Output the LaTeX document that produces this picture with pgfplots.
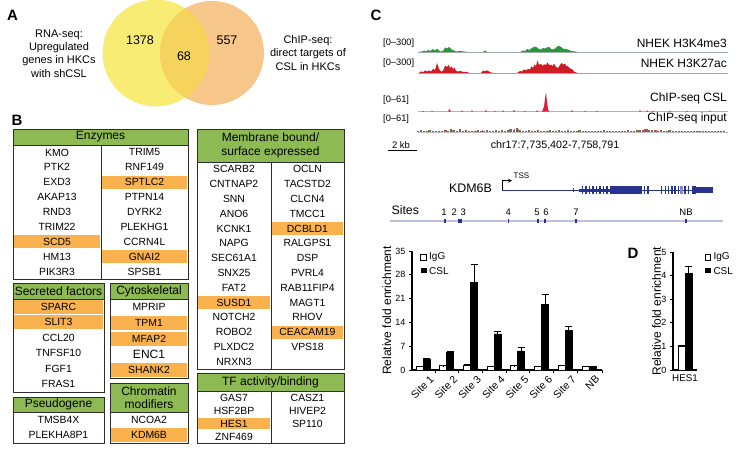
\documentclass[border=0pt]{standalone}
\usepackage{pgfplots}
\pgfplotsset{compat=1.18}
\usepackage{fontspec}
\setmainfont{Liberation Sans}
\definecolor{vyel}{RGB}{249,236,116}
\definecolor{vora}{RGB}{247,198,138}
\definecolor{vmid}{RGB}{245,211,92}
\definecolor{hdr}{RGB}{141,186,82}
\definecolor{hl}{RGB}{250,178,78}
\definecolor{bline}{RGB}{45,45,45}
\definecolor{trgreen}{RGB}{40,150,60}
\definecolor{trred}{RGB}{205,28,38}
\definecolor{cslred}{RGB}{222,30,55}
\definecolor{inbrown}{RGB}{140,95,85}
\definecolor{inolive}{RGB}{105,135,65}
\definecolor{navy}{RGB}{40,50,145}
\definecolor{lightnavy}{RGB}{130,135,200}
\definecolor{siteline}{RGB}{190,192,222}
\definecolor{basegray}{RGB}{175,175,175}
\newcommand{\fs}[1]{\fontsize{#1}{#1}\selectfont}
% column of gene names: x1, x2, header bottom, row height, list name/flag
\newcommand{\gcol}[5]{%
  \foreach \g/\h [count=\i] in {#5} {%
    \ifnum\h=1 \fill[hl] ({#1+1.2},{#3+(\i-1)*#4+0.9}) rectangle ({#2-1.2},{#3+\i*#4-0.9});\fi
    \node[font=\fs{10.4}, inner sep=0pt] at ({(#1+#2)/2},{#3+(\i-0.5)*#4}) {\g};
  }}
% box: x1, x2, top, header bottom, bottom, header text
\newcommand{\gboxhead}[5]{%
  \fill[hdr] (#1,#3) rectangle (#2,#4);
  \node[font=\fontsize{12}{13.5}\selectfont, align=center, inner sep=0pt] at ({(#1+#2)/2},{(#3+#4)/2}) {#5};}
\newcommand{\gboxframe}[5]{%
  \draw[bline, line width=0.9pt] (#1,#4) -- (#2,#4);
  \draw[bline, line width=0.9pt] (#1,#3) rectangle (#2,#5);}
\pgfplotsset{trk/.style={scale only axis, width=310pt, height=20pt, xmin=0, xmax=310, ymin=0, hide axis, clip=false, anchor=south west}}
\begin{document}
\begin{tikzpicture}
\useasboundingbox (0,0) rectangle (742pt,-458pt);
\begin{scope}[x=1pt,y=-1pt]
% ---------------- Panel A ----------------
\node[font=\bfseries\fs{15}] at (12.5,15) {A};
\fill[vyel] (156,53) circle[radius=53.5pt];
\fill[vora] (212,53) circle[radius=52pt];
\begin{scope}
  \clip (156,53) circle[radius=53.5pt];
  \fill[vmid] (212,53) circle[radius=52pt];
\end{scope}
\node[font=\fs{12.5}] at (140,40) {1378};
\node[font=\fs{12.5}] at (184,56.5) {68};
\node[font=\fs{12.5}] at (227,40) {557};
\node[font=\fontsize{11}{13.3}\selectfont, align=center] at (59,53.5) {RNA-seq:\\Upregulated\\genes in HKCs\\with shCSL};
\node[font=\fontsize{11}{13.5}\selectfont, align=center] at (308,53) {ChIP-seq:\\direct targets of\\CSL in HKCs};
% ---------------- Panel B ----------------
\node[font=\bfseries\fs{15}] at (17,120) {B};
% Enzymes
\gboxhead{13}{188}{129}{145}{Enzymes}
\gcol{13}{101}{145}{14.9}{KMO/0,PTK2/0,EXD3/0,AKAP13/0,RND3/0,TRIM22/0,SCD5/1,HM13/0,PIK3R3/0}
\gcol{101}{188}{145}{14.9}{TRIM5/0,RNF149/0,SPTLC2/1,PTPN14/0,DYRK2/0,PLEKHG1/0,CCRN4L/0,GNAI2/1,SPSB1/0}
\gboxframe{13}{188}{129}{145}{279}
\draw[bline, line width=0.9pt] (101,145) -- (101,279);
% Secreted factors
\gboxhead{13}{104}{283}{299}{Secreted factors}
\gcol{13}{104}{299}{15.5}{SPARC/1,SLIT3/1,CCL20/0,TNFSF10/0,FGF1/0,FRAS1/0}
\gboxframe{13}{104}{283}{299}{392}
% Pseudogene
\gboxhead{13}{104}{397}{412}{Pseudogene}
\gcol{13}{104}{412}{15.5}{TMSB4X/0,PLEKHA8P1/0}
\gboxframe{13}{104}{397}{412}{443}
% Cytoskeletal
\gboxhead{110}{188}{283}{299}{Cytoskeletal}
\gcol{110}{188}{299}{15.8}{MPRIP/0,TPM1/1,MFAP2/1,{\fs{12}ENC1}/0,SHANK2/1}
\gboxframe{110}{188}{283}{299}{378}
% Chromatin modifiers
\gboxhead{110}{188}{383}{412}{Chromatin\\modifiers}
\gcol{110}{188}{412}{15.5}{NCOA2/0,KDM6B/1}
\gboxframe{110}{188}{383}{412}{443}
% Membrane bound
\gboxhead{197}{344}{129}{162}{Membrane bound/\\surface expressed}
\gcol{197}{271}{162}{14.8}{SCARB2/0,CNTNAP2/0,SNN/0,ANO6/0,KCNK1/0,NAPG/0,SEC61A1/0,SNX25/0,FAT2/0,SUSD1/1,NOTCH2/0,ROBO2/0,PLXDC2/0,NRXN3/0}
\gcol{271}{344}{162}{14.8}{OCLN/0,TACSTD2/0,CLCN4/0,TMCC1/0,DCBLD1/1,RALGPS1/0,DSP/0,PVRL4/0,RAB11FIP4/0,MAGT1/0,RHOV/0,CEACAM19/1,VPS18/0}
\gboxframe{197}{344}{129}{162}{369}
\draw[bline, line width=0.9pt] (271,162) -- (271,369);
% TF activity
\gboxhead{197}{344}{373}{391}{TF activity/binding}
\gcol{197}{271}{391}{13}{GAS7/0,HSF2BP/0,HES1/1,ZNF469/0}
\gcol{271}{344}{391}{13}{CASZ1/0,HIVEP2/0,SP110/0}
\gboxframe{197}{344}{373}{391}{443}
\draw[bline, line width=0.9pt] (271,391) -- (271,443);
% ---------------- Panel C ----------------
\node[font=\bfseries\fs{15}] at (376,15) {C};
\draw[basegray, line width=0.8pt] (418,52) -- (728,52);
\draw[basegray, line width=0.8pt] (418,73) -- (728,73);
\draw[basegray!80, line width=0.6pt] (418,111.5) -- (728,111.5);
\draw[basegray!80, line width=0.6pt] (418,132) -- (728,132);
\node[font=\fs{9.3}, anchor=west, inner sep=0pt] at (383,43) {[0--300]};
\node[font=\fs{9.3}, anchor=west, inner sep=0pt] at (383,63) {[0--300]};
\node[font=\fs{9.3}, anchor=west, inner sep=0pt] at (383,100) {[0--61]};
\node[font=\fs{9.3}, anchor=west, inner sep=0pt] at (383,119) {[0--61]};
\node[font=\fs{12}, anchor=east, inner sep=0pt] at (727,43) {NHEK H3K4me3};
\node[font=\fs{12}, anchor=east, inner sep=0pt] at (727,63) {NHEK H3K27ac};
\node[font=\fs{12}, anchor=east, inner sep=0pt] at (727,98) {ChIP-seq CSL};
\node[font=\fs{12}, anchor=east, inner sep=0pt] at (727,118) {ChIP-seq input};
\draw[black, line width=0.8pt] (388,150.7) -- (417,150.7);
\node[font=\fs{9.5}, inner sep=0pt] at (401,145) {2 kb};
\node[font=\fs{10.7}, inner sep=0pt] at (555,145.5) {chr17:7,735,402-7,758,791};
% gene model
\node[font=\fs{12.4}, anchor=east, inner sep=0pt] at (492,188) {KDM6B};
\draw[navy, line width=1pt] (502.3,190) -- (713,190);
\draw[black, line width=0.8pt, -stealth] (502.3,190) -- (502.3,180.7) -- (512,180.7);
\node[font=\fs{8}, anchor=west, inner sep=0pt] at (513.5,175.5) {TSS};
\fill[navy] (572.5,188.3) rectangle (574.3,191.7);
\fill[navy] (579,188.5) rectangle (610,191.5);
\foreach \xx in {581.7,585.2,588.6,592.1,595.6,599.1,602.6,606} {\fill[navy] (\xx,185.7) rectangle (\xx+1.6,194.3);}
\fill[navy] (610,185.7) rectangle (641.5,194.3);
\fill[navy] (643.5,185.7) rectangle (645,194.3);
\fill[navy] (647,185.7) rectangle (648.5,194.3);
\foreach \xx in {660.5,664.8,667.8,671,674.2,677.5,684.3,687.7} {\fill[navy] (\xx,185.7) rectangle (\xx+1.6,194.3);}
\fill[lightnavy] (680,185.7) rectangle (683,194.3);
\fill[navy] (691.5,185.7) rectangle (696,194.3);
\fill[navy] (696,187.4) rectangle (713.3,192.6);
% sites
\node[font=\fs{12.3}, inner sep=0pt] at (405.3,210) {Sites};
\draw[siteline, line width=1.4pt] (390,221) -- (723,221);
\foreach \xx in {445,508.5,537.7,544.7,575.8,685.8} {\fill[navy] (\xx-0.9,219.3) rectangle (\xx+0.9,222.7);}
\fill[navy] (457.6,219.3) rectangle (462.3,222.7);
\foreach \xx/\tt in {444/1,454.3/2,463.3/3,508.3/4,537/5,546/6,576/7,686/NB} {\node[font=\fs{9.5}, inner sep=0pt] at (\xx,212) {\tt};}
% legends
\draw[black, line width=0.8pt, fill=white] (420.7,254.3) rectangle (426.5,260.1);
\node[font=\fs{10}, anchor=west, inner sep=0pt] at (429,257.3) {IgG};
\fill[black] (420.7,267.6) rectangle (426.5,273.4);
\node[font=\fs{10}, anchor=west, inner sep=0pt] at (429,270.8) {CSL};
\node[font=\bfseries\fs{15}] at (633,253) {D};
\draw[black, line width=0.8pt, fill=white] (705,254.3) rectangle (710.8,260.1);
\node[font=\fs{10}, anchor=west, inner sep=0pt] at (713.3,257.3) {IgG};
\fill[black] (705,267.6) rectangle (710.8,273.4);
\node[font=\fs{10}, anchor=west, inner sep=0pt] at (713.3,270.8) {CSL};
\end{scope}
% ---------------- tracks ----------------
\begin{axis}[trk, ymax=300, at={(418pt,-52pt)}]
\addplot[fill=trgreen, draw=none] coordinates {(0,0)(4,8)(6,22)(8,8)(10,30)(12,15)(15,45)(17,22)(19,52)(22,8)(25,15)(27,68)(29,52)(31,75)(33,45)(36,22)(38,8)(42,15)(45,8)(50,0)(65,0)(67,22)(69,0)(94,0)(102,0)(105,22)(107,15)(109,45)(111,30)(113,52)(115,68)(117,82)(119,68)(121,45)(123,38)(125,60)(127,52)(129,68)(131,75)(133,45)(135,38)(137,52)(139,82)(141,90)(143,75)(145,52)(147,45)(150,38)(153,15)(157,8)(160,0)(310,0)};
\end{axis}
\begin{axis}[trk, ymax=300, at={(418pt,-73pt)}]
\addplot[fill=trred, draw=none] coordinates {(1,0)(3,25)(5,12)(7,40)(9,22)(11,38)(13,22)(15,60)(17,45)(19,150)(21,60)(23,22)(25,30)(27,110)(29,90)(30.5,125)(32,75)(33.5,100)(35,60)(36.5,80)(38,30)(40,22)(42,30)(44,22)(46,15)(49,18)(51,0)(63,0)(65,35)(67,27)(69,40)(71,22)(73,8)(75,0)(99,0)(102,30)(104,22)(105.5,50)(108,45)(110.5,60)(112,52)(113.5,100)(115,75)(116.5,125)(118,105)(119.5,190)(121,120)(123,140)(124.5,105)(126,130)(128,120)(129.5,160)(131,120)(133,125)(134.5,105)(136,140)(138,90)(140,75)(142,120)(143.5,150)(145,128)(147,135)(148.5,105)(150,100)(152,68)(154,60)(156,22)(158,8)(160,0)(310,0)};
\end{axis}
\begin{axis}[trk, ymax=61, at={(418pt,-111.5pt)}]
\addplot[fill=cslred, draw=none] coordinates {(0,0)(4,0)(5,3)(6,0)(13,0)(14,3)(15,0)(30,0)(31.5,8)(33,0)(43,0)(44,4)(45,0)(53,0)(54,4)(55,0)(67,0)(68,6)(69,0)(76,0)(77,3)(78,0)(84,0)(85,4)(86,0)(95,0)(96,6)(97,0)(106,0)(107,3)(108,0)(118,0)(119,4)(120,0)(124,0)(125,8)(126,14)(127,40)(128,58)(129,30)(130,8)(131,0)(153,0)(154,5)(155,0)(166,0)(167,3)(168,0)(178,0)(179,3)(180,0)(221,0)(222,5)(223,0)(228,0)(229,4)(230,0)(234,0)(235,3)(236,0)(251,0)(252,3)(253,0)(268,0)(269,3)(270,0)(291,0)(292,3)(293,0)(310,0)};
\end{axis}
\begin{axis}[trk, ymax=61, at={(418pt,-132pt)}]
\addplot[ycomb, draw=inbrown, line width=1.2pt, mark=none] coordinates {(0,3)(3,5)(6,2)(9,4)(12,6)(15,3)(18,2)(21,4)(24,3)(27,7)(30,4)(33,9)(36,5)(39,3)(42,8)(45,4)(48,6)(51,3)(54,4)(57,2)(60,5)(63,3)(66,4)(69,6)(72,3)(75,4)(78,5)(81,2)(84,6)(87,4)(90,7)(93,10)(96,6)(99,12)(102,7)(105,4)(108,3)(111,5)(114,3)(117,4)(120,6)(123,3)(126,4)(129,2)(132,5)(135,4)(138,3)(141,6)(144,4)(147,3)(150,5)(153,2)(156,4)(159,3)(162,5)(165,3)(168,4)(171,2)(174,3)(177,4)(180,2)(183,3)(186,5)(189,4)(192,3)(195,4)(198,3)(201,2)(204,4)(207,3)(210,5)(213,3)(216,4)(219,6)(222,5)(225,7)(228,9)(231,6)(234,5)(237,7)(240,4)(243,5)(246,3)(249,4)(252,6)(255,3)(258,4)(261,2)(264,3)(267,4)(270,3)(273,2)(276,4)(279,3)(282,3)(285,2)(288,3)(291,4)(294,3)(297,2)(300,3)(303,3)(306,2)};
\addplot[ycomb, draw=inolive, line width=1.2pt, mark=none] coordinates {(10.5,5)(34.5,7)(58.5,4)(91.5,8)(100.5,9)(130.5,4)(160.5,5)(220.5,6)(229.5,8)(250.5,5)(280.5,4)};
\addplot[ycomb, draw=cslred!80, line width=1.2pt, mark=none] coordinates {(28.5,6)(64.5,5)(96.5,10)(226.5,9)(238.5,6)};
\end{axis}
% ---------------- bar chart C ----------------
\begin{axis}[
  scale only axis, width=190pt, height=119pt,
  at={(412pt,-370pt)}, anchor=south west,
  ybar=0pt, bar width=7pt,
  xmin=0.53, xmax=8.55, ymin=0, ymax=35,
  axis lines=left, axis line style={-, line width=1.1pt},
  tick align=outside, major tick length=3pt, minor tick length=3pt,
  ytick={0,7,14,21,28,35},
  xtick={1.25,2.25,3.25,4.25,5.25,6.25,7.25,8.25},
  xticklabels={Site 1,Site 2,Site 3,Site 4,Site 5,Site 6,Site 7,NB},
  minor xtick={1.5,2.5,3.5,4.5,5.5,6.5,7.5,8.55},
  major x tick style=transparent,
  minor x tick style={black, line width=0.9pt},
  major y tick style={black, line width=0.9pt},
  x tick label style={rotate=45, anchor=north east, font=\fs{10.5}, inner sep=1pt},
  y tick label style={font=\fs{9}},
  /pgf/number format/assume math mode=true,
  every axis y label/.style={at={(axis description cs:-0.132,0.5)}, rotate=90, anchor=center, font=\fs{12}},
  ylabel={Relative fold enrichment},
]
\addplot[fill=white, draw=black, line width=0.9pt,
  error bars/.cd, y dir=plus, y explicit,
  error bar style={line width=0.9pt, black},
  error mark options={rotate=90, mark size=3.5pt, line width=0.9pt, black}]
  coordinates {(1,1.0) +- (0,0.1) (2,1.2) +- (0,0.1) (3,1.3) +- (0,0.3) (4,1.0) +- (0,0.1) (5,1.2) +- (0,0.1) (6,1.0) +- (0,0.05) (7,1.3) +- (0,0.1) (8,1.0) +- (0,0.05)};
\addplot[fill=black, draw=black, line width=0.9pt,
  error bars/.cd, y dir=plus, y explicit,
  error bar style={line width=0.9pt, black},
  error mark options={rotate=90, mark size=3.5pt, line width=0.9pt, black}]
  coordinates {(1,3.0) +- (0,0.4) (2,5.2) +- (0,0.2) (3,25.8) +- (0,5.2) (4,10.6) +- (0,0.7) (5,5.6) +- (0,0.9) (6,19.4) +- (0,2.8) (7,11.6) +- (0,1.3) (8,1.0) +- (0,0.1)};
\end{axis}
% ---------------- bar chart D ----------------
\begin{axis}[
  scale only axis, width=24pt, height=118pt,
  at={(673pt,-370pt)}, anchor=south west,
  ybar=0pt, bar width=7pt,
  xmin=0.5, xmax=1.5, ymin=0, ymax=5,
  axis lines=left, axis line style={-, line width=1.1pt},
  tick align=outside, major tick length=3pt,
  ytick={0,1,2,3,4,5},
  xtick={1}, xticklabels={HES1},
  major x tick style=transparent,
  major y tick style={black, line width=0.9pt},
  x tick label style={font=\fs{9.8}, inner sep=1pt},
  y tick label style={font=\fs{9}},
  /pgf/number format/assume math mode=true,
  every axis y label/.style={at={(axis description cs:-0.68,0.5)}, rotate=90, anchor=center, font=\fs{12}},
  ylabel={Relative fold enrichment},
]
\addplot[fill=white, draw=black, line width=0.9pt,
  error bars/.cd, y dir=plus, y explicit,
  error bar style={line width=0.9pt, black},
  error mark options={rotate=90, mark size=3.5pt, line width=0.9pt, black}]
  coordinates {(1,1.0) +- (0,0.05)};
\addplot[fill=black, draw=black, line width=0.9pt,
  error bars/.cd, y dir=plus, y explicit,
  error bar style={line width=0.9pt, black},
  error mark options={rotate=90, mark size=3.5pt, line width=0.9pt, black}]
  coordinates {(1,4.1) +- (0,0.27)};
\end{axis}
\end{tikzpicture}
\end{document}
